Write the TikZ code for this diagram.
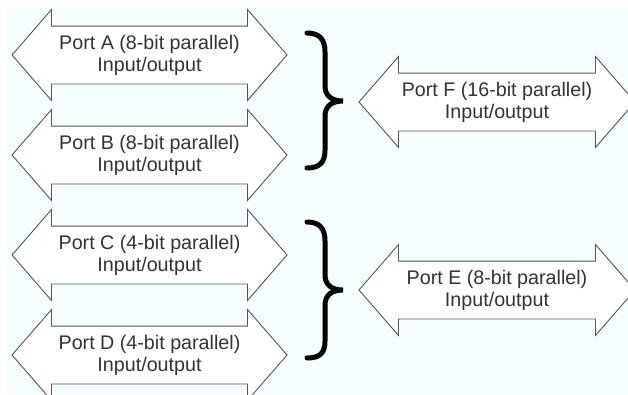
\documentclass[tikz,border=0pt]{standalone}
\usepackage{fontspec}
\setmainfont{Liberation Sans}
\usepackage{tikz}
\usetikzlibrary{shapes.arrows}
\definecolor{panel}{RGB}{245,253,255}
\definecolor{outline}{RGB}{85,85,85}
\definecolor{txt}{RGB}{51,51,51}

\begin{document}
\begin{tikzpicture}[
  x=1pt,y=-1pt,
  port/.style={double arrow,draw=outline,fill=white,line width=0.9pt,minimum height=275pt,
    inner xsep=0pt,inner ysep=28.5pt,double arrow head extend=16.5pt,double arrow tip angle=98},
  porttext/.style={align=center,text=txt,inner sep=0pt,font=\fontsize{19.7}{22}\selectfont},
  curly/.style={line width=5pt,line cap=round}
]
\useasboundingbox (0,0) rectangle (628,394);
\clip (0,0) rectangle (628,394);
\fill[panel] (7,7) rectangle (628,394);

% left column
\node[port] (portA) at (149.5,55) {};
\node[porttext] (textA) at (portA.center) {Port A (8-bit parallel)\\Input/output};
\node[port] (portB) at (149.5,155) {};
\node[porttext] (textB) at (portB.center) {Port B (8-bit parallel)\\Input/output};
\node[port] (portC) at (149.5,255) {};
\node[porttext] (textC) at (portC.center) {Port C (4-bit parallel)\\Input/output};
\node[port] (portD) at (149.5,355) {};
\node[porttext] (textD) at (portD.center) {Port D (4-bit parallel)\\Input/output};

% right column
\node[port,minimum height=276pt] (portF) at (497,102) {};
\node[porttext] (textF) at (portF.center) {Port F (16-bit parallel)\\Input/output};
\node[port,minimum height=276pt] (portE) at (497,290) {};
\node[porttext] (textE) at (portE.center) {Port E (8-bit parallel)\\Input/output};

% braces
\draw[curly] (307,33) .. controls (320,33) and (325,40) .. (325,52) -- (325,86)
  .. controls (325,96) and (332,101) .. (343,101)
  .. controls (332,101) and (325,106) .. (325,116) -- (325,150)
  .. controls (325,162) and (320,168) .. (307,168);
\draw[curly] (307,222) .. controls (320,222) and (325,229) .. (325,241) -- (325,275)
  .. controls (325,285) and (332,290) .. (343,290)
  .. controls (332,290) and (325,295) .. (325,305) -- (325,341)
  .. controls (325,353) and (320,358) .. (307,358);
\end{tikzpicture}
\end{document}
